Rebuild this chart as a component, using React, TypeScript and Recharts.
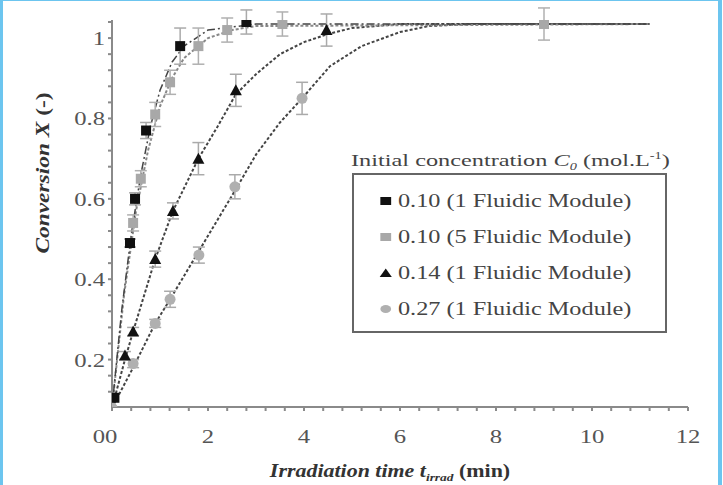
import {
  ComposedChart,
  ErrorBar,
  Label,
  Line,
  Scatter,
  XAxis,
  YAxis,
} from "recharts";

// measured points (t in min, conversion X)
const t010a = [0.05, 0.375, 0.48, 0.71, 1.42, 2.8];
const x010a = [0.105, 0.49, 0.6, 0.77, 0.98, 1.04];
const e010a = [0, 0.01, 0.015, 0.02, 0.045, 0.03];

const t010b = [0.44, 0.6, 0.9, 1.21, 1.8, 2.4, 3.55, 9];
const x010b = [0.54, 0.65, 0.81, 0.89, 0.98, 1.02, 1.035, 1.035];
const e010b = [0.02, 0.02, 0.03, 0.03, 0.045, 0.03, 0.03, 0.04];

const t014 = [0.27, 0.44, 0.9, 1.27, 1.8, 2.58, 4.47];
const x014 = [0.21, 0.27, 0.45, 0.57, 0.7, 0.87, 1.02];
const e014 = [0.01, 0.01, 0.02, 0.02, 0.04, 0.04, 0.04];

const t027 = [0, 0.44, 0.9, 1.21, 1.81, 2.56, 3.96];
const x027 = [0.08, 0.19, 0.29, 0.35, 0.46, 0.63, 0.85];
const e027 = [0, 0.01, 0.01, 0.02, 0.02, 0.03, 0.04];

// model curves
const fitT010a = [0, 0.2, 0.4, 0.6, 0.8, 1, 1.25, 1.5, 2, 3, 11.2];
const fitX010a = [0.08, 0.32, 0.51, 0.66, 0.78, 0.87, 0.94, 0.98, 1.02, 1.035, 1.035];
const fitT010b = [0, 0.25, 0.5, 0.75, 1, 1.25, 1.5, 2, 2.5, 3, 11.2];
const fitX010b = [0.08, 0.36, 0.57, 0.72, 0.83, 0.9, 0.95, 1.0, 1.02, 1.03, 1.035];
const fitT014 = [0, 0.27, 0.44, 0.9, 1.27, 1.8, 2.2, 2.58, 3, 3.5, 4, 4.5, 5, 6, 8, 11.2];
const fitX014 = [0.08, 0.2, 0.27, 0.45, 0.57, 0.7, 0.78, 0.86, 0.91, 0.96, 0.99, 1.01, 1.025, 1.035, 1.035, 1.035];
const fitT027 = [0, 0.44, 0.9, 1.21, 1.81, 2.56, 3, 3.5, 3.96, 4.54, 5.2, 6, 6.6, 7.5, 11.2];
const fitX027 = [0.08, 0.18, 0.29, 0.35, 0.47, 0.62, 0.71, 0.79, 0.85, 0.93, 0.98, 1.015, 1.03, 1.035, 1.035];

const xTicks = Array.from({ length: 31 }, (_, i) => Math.round(i * 4) / 10);
const yTicks = Array.from({ length: 24 }, (_, i) => Math.round((0.12 + i * 0.04) * 100) / 100);
const xMajor = [0, 2, 4, 6, 8, 10, 12];
const yMajor = [0.2, 0.4, 0.6, 0.8, 1];

const legendItems = [
  { label: "0.10 (1 Fluidic Module)", color: "#111", shape: "square" },
  { label: "0.10 (5 Fluidic Module)", color: "#a8a8a8", shape: "square" },
  { label: "0.14 (1 Fluidic Module)", color: "#111", shape: "triangle" },
  { label: "0.27 (1 Fluidic Module)", color: "#b0b0b0", shape: "circle" },
];

const pts = (t: number[], x: number[], e?: number[]) =>
  t.map((v, i) => ({ t: v, x: x[i], err: e ? e[i] : 0 }));

const serif = "'Liberation Serif', 'Times New Roman', serif";

function Square(color: string) {
  return (p: any) => <rect x={p.cx - 5} y={p.cy - 5} width={10} height={10} fill={color} />;
}
function Triangle(p: any) {
  return <polygon points={`${p.cx},${p.cy - 6} ${p.cx - 6},${p.cy + 5} ${p.cx + 6},${p.cy + 5}`} fill="#111" />;
}
function Circle(p: any) {
  return <circle cx={p.cx} cy={p.cy} r={5.5} fill="#b0b0b0" />;
}

function XTick({ x, y, payload }: any) {
  const v = payload.value;
  if (!xMajor.includes(v)) return null;
  const label = v === 0 ? "00" : String(v);
  return (
    <text
      transform={`translate(${v === 0 ? x - 7 : x},${y + 30}) scale(1.3,1)`}
      textAnchor="middle"
      style={{ fontFamily: serif }}
      fontSize={19}
      fill="#555"
    >
      {label}
    </text>
  );
}

function YTick({ x, y, payload }: any) {
  const v = payload.value;
  if (!yMajor.includes(v)) return null;
  return (
    <text
      transform={`translate(${x - 1},${y + 7}) scale(1.3,1)`}
      textAnchor="end"
      style={{ fontFamily: serif }}
      fontSize={19}
      fill="#555"
    >
      {String(v)}
    </text>
  );
}

function Marker({ shape, color }: { shape: string; color: string }) {
  return (
    <svg width={10} height={10} style={{ marginRight: 4 }}>
      {shape === "square" && <rect x={1} y={1} width={8} height={8} fill={color} />}
      {shape === "triangle" && <polygon points="5,0.5 0.5,9 9.5,9" fill={color} />}
      {shape === "circle" && <circle cx={5} cy={5} r={4} fill={color} />}
    </svg>
  );
}

export default function App() {
  return (
    <div style={{ position: "fixed", left: 0, top: 0, width: 723, height: 485, background: "#fff", fontFamily: serif }}>
      <div style={{ position: "absolute", left: 0, top: 0, width: 3, height: 485, background: "#6cc5ef" }} />
      <div style={{ position: "absolute", left: 0, top: 0, width: 722, height: 1, background: "#6cc5ef" }} />
      <div style={{ position: "absolute", left: 718, top: 0, width: 4, height: 485, background: "#6cc5ef" }} />
      <ComposedChart
        width={723}
        height={485}
        margin={{ top: 20, right: 35, bottom: 48, left: 52 }}
      >
        <XAxis
          type="number"
          dataKey="t"
          domain={[0, 12]}
          ticks={xTicks}
          interval={0}
          allowDataOverflow
          stroke="#8a8a8a"
          strokeWidth={2}
          tickSize={4}
          height={30}
          tick={<XTick />}
        >
          <Label
            content={() => (
              <text
                transform="translate(390,477) scale(1.22,1)"
                textAnchor="middle"
                style={{ fontFamily: serif }}
                fontSize={18}
                fill="#333"
                fontWeight="bold"
              >
                <tspan fontStyle="italic">Irradiation time t</tspan>
                <tspan fontStyle="italic" fontSize={11} dy={4}>irrad</tspan>
                <tspan dy={-4}> (min)</tspan>
              </text>
            )}
          />
        </XAxis>
        <YAxis
          type="number"
          dataKey="x"
          domain={[0.082, 1.045]}
          ticks={yTicks}
          interval={0}
          allowDataOverflow
          width={60}
          stroke="#8a8a8a"
          strokeWidth={2}
          tickSize={4}
          tick={<YTick />}
        >
          <Label
            content={() => (
              <text
                transform="translate(49,173) rotate(-90) scale(1.3,1)"
                textAnchor="middle"
                style={{ fontFamily: serif }}
                fontSize={18}
                fill="#333"
                fontWeight="bold"
              >
                <tspan fontStyle="italic">Conversion X</tspan>
                <tspan> (-)</tspan>
              </text>
            )}
          />
        </YAxis>

        <Line data={pts(fitT027, fitX027)} dataKey="x" stroke="#444" strokeWidth={2} strokeDasharray="3 2" dot={false} isAnimationActive={false} />
        <Line data={pts(fitT014, fitX014)} dataKey="x" stroke="#444" strokeWidth={2} strokeDasharray="3 2" dot={false} isAnimationActive={false} />
        <Line data={pts(fitT010b, fitX010b)} dataKey="x" stroke="#888" strokeWidth={2} strokeDasharray="3 2" dot={false} isAnimationActive={false} />
        <Line data={pts(fitT010a, fitX010a)} dataKey="x" stroke="#444" strokeWidth={1.5} strokeDasharray="8 3 2 3" dot={false} isAnimationActive={false} />

        <Scatter data={pts(t027, x027, e027)} dataKey="x" shape={Circle} isAnimationActive={false}>
          <ErrorBar dataKey="err" direction="y" width={6} stroke="#aaa" strokeWidth={1.5} />
        </Scatter>
        <Scatter data={pts(t014, x014, e014)} dataKey="x" shape={Triangle} isAnimationActive={false}>
          <ErrorBar dataKey="err" direction="y" width={6} stroke="#aaa" strokeWidth={1.5} />
        </Scatter>
        <Scatter data={pts(t010b, x010b, e010b)} dataKey="x" shape={Square("#a8a8a8")} isAnimationActive={false}>
          <ErrorBar dataKey="err" direction="y" width={6} stroke="#b0b0b0" strokeWidth={1.5} />
        </Scatter>
        <Scatter data={pts(t010a, x010a, e010a)} dataKey="x" shape={Square("#111")} isAnimationActive={false}>
          <ErrorBar dataKey="err" direction="y" width={6} stroke="#aaa" strokeWidth={1.5} />
        </Scatter>
      </ComposedChart>

      <div
        style={{
          position: "absolute",
          left: 351,
          top: 145,
          fontSize: 17,
          lineHeight: "22px",
          color: "#444",
          whiteSpace: "nowrap",
          transform: "scaleX(1.43)",
          transformOrigin: "left center",
        }}
      >
        Initial concentration <i>C</i>
        <sub style={{ fontSize: 10, fontStyle: "italic" }}>0</sub> (mol.L<sup style={{ fontSize: 10 }}>-1</sup>)
      </div>
      <div
        style={{
          position: "absolute",
          left: 352,
          top: 173,
          width: 311,
          height: 156,
          border: "2px solid #666",
          boxSizing: "content-box",
        }}
      >
        {legendItems.map((it, i) => (
          <div
            key={it.label}
            style={{
              position: "absolute",
              left: 25,
              top: 15 + i * 36,
              height: 22,
              display: "flex",
              alignItems: "center",
              fontSize: 18,
              color: "#444",
              whiteSpace: "nowrap",
              transform: "scaleX(1.35)",
              transformOrigin: "left center",
            }}
          >
            <Marker shape={it.shape} color={it.color} />
            {it.label}
          </div>
        ))}
      </div>
    </div>
  );
}
